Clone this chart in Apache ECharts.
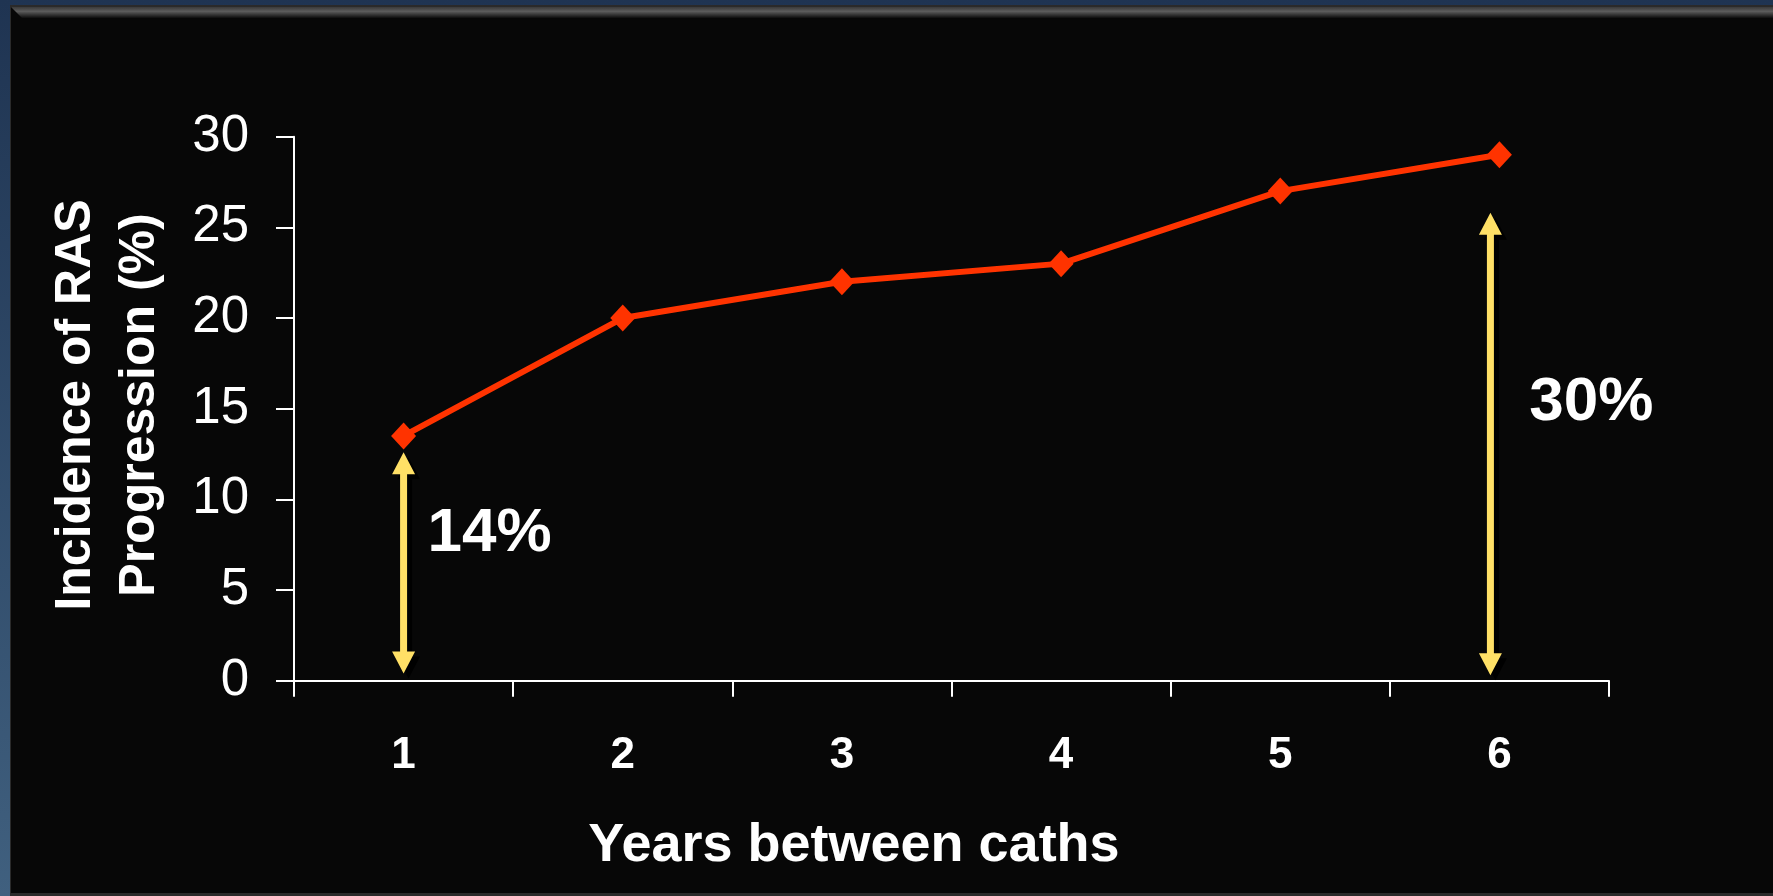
<!DOCTYPE html>
<html>
<head>
<meta charset="utf-8">
<title>Incidence of RAS Progression</title>
<script src="https://cdn.jsdelivr.net/npm/echarts@6/dist/echarts.min.js"></script>
<style>
  html, body { margin: 0; padding: 0; background: #070707; }
  #chart { width: 1773px; height: 896px; }
</style>
</head>
<body>
<div id="chart"></div>
<script>
// Years between catheterisations and the share of patients whose RAS progressed
const years = ['1', '2', '3', '4', '5', '6'];
const progression = [13.5, 20, 22, 23, 27, 29];

// Value-axis ticks
const yTicks = [0, 5, 10, 15, 20, 25, 30];

// Double-headed callout arrows: category index, lower and upper ends (in %)
const calloutCategory = [0, 5];
const calloutLow = [0.4, 0.3];
const calloutHigh = [12.6, 25.8];
const calloutText = ['14%', '30%'];
const calloutTextLevel = [8.1, 15.3];

const FONT = '"Liberation Sans", Arial, Helvetica, sans-serif';

// Horizontal nudges (px) for the arrows and their captions
const arrowShift = [0, -9];
const textShift = [86, 101];

const chart = echarts.init(document.getElementById('chart'), null, { renderer: 'canvas' });

function renderCallout(params, api) {
  const i = params.dataIndex;
  const top = api.coord([api.value(0), api.value(2)]);
  const bottom = api.coord([api.value(0), api.value(1)]);
  const cx = top[0] + arrowShift[i];
  const ty = top[1], by = bottom[1];
  const hw = 11.5, sw = 3.5, hl = 22;
  const pts = [
    [cx, ty], [cx + hw, ty + hl], [cx + sw, ty + hl], [cx + sw, by - hl],
    [cx + hw, by - hl], [cx, by], [cx - hw, by - hl], [cx - sw, by - hl],
    [cx - sw, ty + hl], [cx - hw, ty + hl]
  ];
  const textPos = api.coord([api.value(0), calloutTextLevel[i]]);
  return {
    type: 'group',
    children: [
      {
        type: 'polygon',
        shape: { points: pts },
        style: {
          fill: '#FFE066',
          shadowColor: '#000000',
          shadowOffsetX: 5,
          shadowOffsetY: 5,
          shadowBlur: 0
        }
      },
      {
        type: 'text',
        x: cx + textShift[i],
        y: textPos[1],
        style: {
          text: calloutText[i],
          fill: '#ffffff',
          font: 'bold 62px ' + FONT,
          align: 'center',
          verticalAlign: 'middle',
          textShadowColor: '#000000',
          textShadowOffsetX: 3,
          textShadowOffsetY: 3
        }
      }
    ]
  };
}

const option = {
  backgroundColor: '#070707',
  animation: false,
  grid: {
    left: 294,
    right: 164,
    top: 136.7,
    bottom: 215.3,
    containLabel: false,
    outerBoundsMode: 'none'
  },
  graphic: [
    // slide frame: blue strip on the left and top, bevelled grey edge
    {
      type: 'rect', z: -10, silent: true,
      shape: { x: 0, y: 0, width: 1773, height: 896 },
      style: {
        fill: new echarts.graphic.LinearGradient(0, 0, 0, 1, [
          { offset: 0, color: '#1f3452' },
          { offset: 1, color: '#40607f' }
        ])
      }
    },
    {
      type: 'rect', z: -9, silent: true,
      shape: { x: 10, y: 5, width: 1763, height: 891 },
      style: { fill: '#2a2a2a' }
    },
    {
      type: 'rect', z: -8, silent: true,
      shape: { x: 11, y: 7, width: 1762, height: 886 },
      style: { fill: '#070707' }
    },
    {
      type: 'polygon', z: -7, silent: true,
      shape: { points: [[11, 7], [1773, 7], [1773, 18], [22, 18]] },
      style: {
        fill: new echarts.graphic.LinearGradient(0, 0, 0, 1, [
          { offset: 0, color: '#3a3a3a' },
          { offset: 0.4, color: '#5c5c5c' },
          { offset: 1, color: '#0d0d0d' }
        ])
      }
    },
    // axis titles
    {
      type: 'text', z: 10,
      x: 854, y: 846,
      style: {
        text: 'Years between caths',
        fill: '#ffffff',
        font: 'bold 54px ' + FONT,
        align: 'center',
        verticalAlign: 'middle'
      }
    },
    {
      type: 'text', z: 10,
      x: 108, y: 405,
      rotation: Math.PI / 2,
      style: {
        text: 'Incidence of RAS\nProgression (%)',
        fill: '#ffffff',
        font: 'bold 50px ' + FONT,
        lineHeight: 64,
        align: 'center',
        verticalAlign: 'middle'
      }
    }
  ],
  xAxis: {
    type: 'category',
    data: years,
    boundaryGap: true,
    axisLine: { show: true, lineStyle: { color: '#ffffff', width: 2 } },
    axisTick: { show: true, alignWithLabel: false, length: 16, lineStyle: { color: '#ffffff', width: 2 } },
    axisLabel: {
      color: '#ffffff',
      fontFamily: FONT,
      fontWeight: 'bold',
      fontSize: 44,
      margin: 53
    },
    splitLine: { show: false }
  },
  yAxis: {
    type: 'value',
    min: yTicks[0],
    max: yTicks[yTicks.length - 1],
    interval: yTicks[1] - yTicks[0],
    axisLine: { show: true, lineStyle: { color: '#ffffff', width: 2 } },
    axisTick: { show: true, length: 18, lineStyle: { color: '#ffffff', width: 2 } },
    axisLabel: {
      color: '#ffffff',
      fontFamily: FONT,
      fontSize: 51,
      margin: 45
    },
    splitLine: { show: false }
  },
  series: [
    {
      type: 'line',
      data: progression,
      z: 3,
      lineStyle: { color: '#FF3300', width: 6 },
      itemStyle: { color: '#FF3300' },
      symbol: 'diamond',
      symbolSize: [25, 27],
      showSymbol: true
    },
    {
      type: 'custom',
      z: 4,
      data: calloutCategory.map((c, i) => [c, calloutLow[i], calloutHigh[i]]),
      renderItem: renderCallout,
      encode: { x: 0, y: [1, 2] }
    }
  ]
};

chart.setOption(option);
</script>
</body>
</html>
